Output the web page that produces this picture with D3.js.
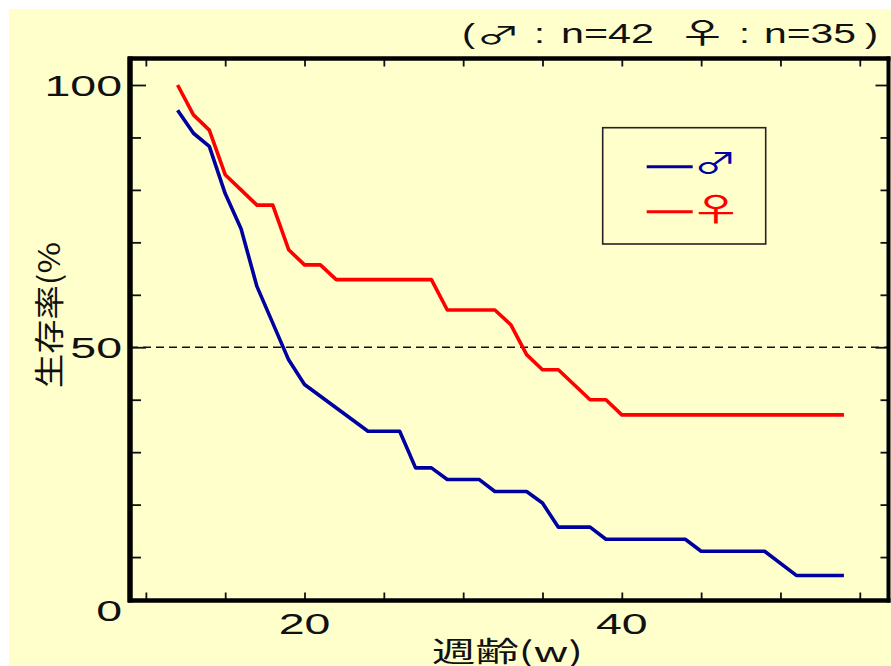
<!DOCTYPE html>
<html><head><meta charset="utf-8">
<script src="https://cdn.jsdelivr.net/npm/d3@7"></script>
<style>html,body{margin:0;padding:0;background:#fff;}svg{display:block;}</style>
</head><body>
<svg id="c" width="891" height="666"></svg>
<script>
// ---- data ----
const femaleWeeks  = [12, 13, 14, 15, 16, 17, 18, 19, 20, 21, 22, 28, 29, 32, 33, 34, 35, 36, 38, 39, 40, 54];
const femaleValues = [100, 94.3, 91.4, 82.9, 80.0, 77.1, 77.1, 68.6, 65.7, 65.7, 62.9, 62.9, 57.1, 57.1, 54.3, 48.6, 45.7, 45.7, 40.0, 40.0, 37.1, 37.1];
const maleWeeks    = [12, 13, 14, 15, 16, 17, 19, 20, 24, 26, 27, 28, 29, 31, 32, 34, 35, 36, 38, 39, 44, 45, 49, 51, 54];
const maleValues   = [95.2, 90.8, 88.3, 79.3, 72.6, 61.6, 47.6, 42.9, 34.0, 34.0, 27.0, 27.0, 24.8, 24.8, 22.5, 22.5, 20.3, 15.7, 15.7, 13.4, 13.4, 11.1, 11.1, 6.5, 6.5];
const xTickValues  = [10, 15, 20, 25, 30, 35, 40, 45, 50, 55];
const xTickLabels  = [20, 40];
const yTickValues  = [10, 20, 30, 40, 50, 60, 70, 80, 90, 100];
const yTickLabels  = [0, 50, 100];
const refLine      = 50;
const sexSymbols   = ["♂", "♀"];
const sampleSizes  = ["n=42", "n=35"];
const xLabel = "週齢(w)";
const yLabel = "生存率(%";

// ---- layout ----
const svg = d3.select("#c");
const L = 130, R = 888.5, T = 58.5, B = 600.5;
const x = d3.scaleLinear().domain([9, 56.81]).range([L, R]);
const y = d3.scaleLinear().domain([1.72, 105.05]).range([B, T]);
const BLUE = "#0000A0", RED = "#FF0000";
const FONT = "'Liberation Sans', Arial, sans-serif";
const SYM = "'Noto Sans CJK JP', sans-serif";

svg.append("rect").attr("x", 9).attr("y", 9).attr("width", 882).attr("height", 657).attr("fill", "#FFFFCC");

function stretchedText(px, py, txt, size, anchor, sx, color, family) {
  return svg.append("g").attr("transform", `translate(${px},${py}) scale(${sx},1)`)
    .append("text").attr("text-anchor", anchor).attr("font-family", family || FONT)
    .attr("font-size", size).attr("fill", color || "#111").text(txt);
}
function fitText(px, py, txt, size, len, color) {
  return svg.append("text").attr("x", px).attr("y", py).attr("font-family", FONT).attr("font-size", size)
    .attr("fill", color || "#111").attr("textLength", len).attr("lengthAdjust", "spacingAndGlyphs").text(txt);
}

// ticks via d3 axes
const tickStyle = g => { g.select(".domain").remove(); g.selectAll(".tick line").attr("stroke", "#111").attr("stroke-width", 1.8); g.selectAll("text").remove(); };
svg.append("g").attr("transform", `translate(0,${B})`)
  .call(d3.axisBottom(x).tickValues(xTickValues).tickSizeInner(-8).tickSizeOuter(0)).call(tickStyle);
svg.append("g").attr("transform", `translate(0,${T})`)
  .call(d3.axisTop(x).tickValues(xTickValues).tickSizeInner(-8).tickSizeOuter(0)).call(tickStyle);
const yl = svg.append("g").attr("transform", `translate(${L},0)`)
  .call(d3.axisLeft(y).tickValues(yTickValues).tickSizeInner(-11).tickSizeOuter(0)).call(tickStyle);
yl.selectAll(".tick line").attr("x2", d => d % 50 === 0 ? 16 : 11);
const yr = svg.append("g").attr("transform", `translate(${R},0)`)
  .call(d3.axisRight(y).tickValues(yTickValues).tickSizeInner(-8).tickSizeOuter(0)).call(tickStyle);
yr.selectAll(".tick line").attr("x2", d => d % 50 === 0 ? -13 : -8);

// reference dashed line
svg.append("line").attr("x1", L).attr("x2", R).attr("y1", y(refLine)).attr("y2", y(refLine))
  .attr("stroke", "#111").attr("stroke-width", 1.6).attr("stroke-dasharray", "8,5");

// frame
svg.append("line").attr("x1", L - 2).attr("x2", R + 2).attr("y1", T).attr("y2", T).attr("stroke", "#000").attr("stroke-width", 4.5);
svg.append("line").attr("x1", L - 2).attr("x2", R + 2).attr("y1", B).attr("y2", B).attr("stroke", "#000").attr("stroke-width", 4.5);
svg.append("line").attr("x1", L).attr("x2", L).attr("y1", T - 2).attr("y2", B + 2).attr("stroke", "#000").attr("stroke-width", 5.5);
svg.append("line").attr("x1", R).attr("x2", R).attr("y1", T - 2).attr("y2", B + 2).attr("stroke", "#000").attr("stroke-width", 4);

// series
const line = d3.line().x(d => x(d[0])).y(d => y(d[1]));
svg.append("path").datum(d3.zip(maleWeeks, maleValues)).attr("d", line)
  .attr("fill", "none").attr("stroke", BLUE).attr("stroke-width", 3.6).attr("stroke-linejoin", "round");
svg.append("path").datum(d3.zip(femaleWeeks, femaleValues)).attr("d", line)
  .attr("fill", "none").attr("stroke", RED).attr("stroke-width", 3.6).attr("stroke-linejoin", "round");

// tick labels
yTickLabels.forEach(v => stretchedText(122, y(v) + 11, String(v), 30, "end", 1.55));
xTickLabels.forEach(v => stretchedText(x(v), 633.5, String(v), 30, "middle", 1.55));

// title: (♂ : n=42  ♀ : n=35)
stretchedText(462, 43, "(", 28, "start", 1.4);
stretchedText(498.5, 43.5, sexSymbols[0], 24, "middle", 1.85, "#111", SYM);
stretchedText(539.5, 43, ":", 28, "middle", 1.4);
fitText(561, 43, sampleSizes[0], 28, 93);
stretchedText(702.5, 43.5, sexSymbols[1], 28, "middle", 1.8, "#111", SYM);
stretchedText(744.5, 43, ":", 28, "middle", 1.4);
fitText(764, 43, sampleSizes[1], 28, 92);
stretchedText(865, 43, ")", 28, "start", 1.4);

// legend
svg.append("rect").attr("x", 602.7).attr("y", 127.7).attr("width", 163).attr("height", 116.3)
  .attr("fill", "none").attr("stroke", "#222").attr("stroke-width", 1.6);
[[BLUE, 166.7, 715.5, 174.3, 29, 1.5], [RED, 211.7, 716, 221, 32, 1.67]].forEach(([c, ly, sxPos, sy, fs, sc], i) => {
  svg.append("line").attr("x1", 646.7).attr("x2", 692.7).attr("y1", ly).attr("y2", ly).attr("stroke", c).attr("stroke-width", 3);
  stretchedText(sxPos, sy, sexSymbols[i], fs, "middle", sc, c, SYM);
});

// axis titles
svg.append("text").attr("transform", "translate(60,388) rotate(-90)").attr("font-family", "'Noto Sans CJK JP', sans-serif")
  .attr("font-size", 30).attr("fill", "#111").attr("textLength", 146).attr("lengthAdjust", "spacingAndGlyphs").text(yLabel);
svg.append("text").attr("x", 432).attr("y", 662).attr("font-family", "'Noto Sans CJK JP', sans-serif")
  .attr("font-size", 28).attr("fill", "#111").attr("textLength", 151).attr("lengthAdjust", "spacingAndGlyphs").text(xLabel);
</script>
</body></html>
